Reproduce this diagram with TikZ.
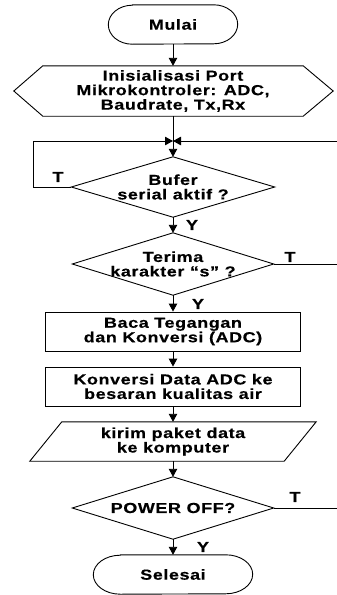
\documentclass[tikz,border=0pt]{standalone}
\usepackage{fontspec}
\setmainfont{Liberation Sans}[FakeStretch=1.24,LetterSpace=4,FakeBold=0.4]
\usetikzlibrary{arrows.meta}
\begin{document}
\begin{tikzpicture}[x=1pt,y=1pt,
  every node/.style={font=\fontsize{14.5}{14.5}\selectfont\bfseries, align=center, inner sep=0pt},
  line/.style={line width=0.9pt, black},
  arr/.style={line, -{Triangle[length=8pt,width=8.5pt]}},
  boxn/.style={draw, line width=0.9pt, minimum width=255pt, minimum height=39pt},
  dia/.style={minimum width=201pt, minimum height=62pt}
]
\useasboundingbox (0,0) rectangle (337,-595);

% terminator Mulai
\node (mulai) [minimum width=129pt, minimum height=39pt] at (173,-24.5) {Mulai};
\draw[line] ([xshift=24pt]mulai.north west) -- ([xshift=-24pt]mulai.north east)
  arc[start angle=90,end angle=-90,x radius=24pt,y radius=19.5pt]
  -- ([xshift=24pt]mulai.south west)
  arc[start angle=270,end angle=90,x radius=24pt,y radius=19.5pt] -- cycle;

% initialisation hexagon
\node (init) [minimum width=260pt, minimum height=50pt] at (173,-91) {Inisialisasi Port\\Mikrokontroler: ADC,\\Baudrate, Tx,Rx};
\draw[line] (init.north west) -- (init.north east) -- ([xshift=30pt]init.east)
  -- (init.south east) -- (init.south west) -- ([xshift=-29pt]init.west) -- cycle;

\coordinate (merge) at (173,-141);

% decision Bufer
\node (bufer) [minimum width=203pt, minimum height=60pt] at (173,-187) {Bufer\\serial aktif ?};
\draw[line] (bufer.north) -- (bufer.east) -- (bufer.south) -- (bufer.west) -- cycle;

% decision Terima
\node (terima) [dia] at (173,-264) {Terima\\karakter “s” ?};
\draw[line] (terima.north) -- (terima.east) -- (terima.south) -- (terima.west) -- cycle;

% process boxes
\node (baca) [boxn] at (173,-331.5) {Baca Tegangan\\dan Konversi (ADC)};
\node (konv) [boxn] at (173,-386.5) {Konversi Data ADC ke\\besaran kualitas air};

% output parallelogram
\node (kirim) [minimum width=254pt, minimum height=39pt] at (173,-441.5) {kirim paket data\\ke komputer};
\draw[line] ([xshift=16pt]kirim.north west) -- ([xshift=16pt]kirim.north east)
  -- ([xshift=-16pt]kirim.south east) -- ([xshift=-16pt]kirim.south west) -- cycle;

% decision Power
\node (power) [dia] at (173,-508) {POWER OFF?};
\draw[line] (power.north) -- (power.east) -- (power.south) -- (power.west) -- cycle;

% terminator Selesai
\node (selesai) [minimum width=159pt, minimum height=39pt] at (173,-574.5) {Selesai};
\draw[line] ([xshift=27pt]selesai.north west) -- ([xshift=-27pt]selesai.north east)
  arc[start angle=90,end angle=-90,x radius=27pt,y radius=19.5pt]
  -- ([xshift=27pt]selesai.south west)
  arc[start angle=270,end angle=90,x radius=27pt,y radius=19.5pt] -- cycle;

% free ends
\coordinate (lc) at (33,-187);
\coordinate (rin) at (337,-141);
\coordinate (tout) at (337,-264);
\coordinate (pout) at (337,-508);

% connectors
\draw[arr] (mulai.south) -- (init.north);
\draw[line] (init.south) -- (merge);
\draw[arr] (merge) -- (bufer.north);
\draw[arr] (bufer.west) -- (lc) -- (lc |- merge) -- (merge);
\draw[arr] (rin) -- (merge);
\draw[arr] (bufer.south) -- (terima.north);
\draw[line] (terima.east) -- (tout);
\draw[arr] (terima.south) -- (baca.north);
\draw[arr] (baca.south) -- (konv.north);
\draw[arr] (konv.south) -- (kirim.north);
\draw[arr] (kirim.south) -- (power.north);
\draw[line] (power.east) -- (pout);
\draw[arr] (power.south) -- (selesai.north);

% labels
\node (t1) at (58,-177) {T};
\node (y1) at (192,-225) {Y};
\node (t2) at (290,-257) {T};
\node (y2) at (198,-304) {Y};
\node (t3) at (295,-497) {T};
\node (y3) at (203,-547) {Y};
\end{tikzpicture}
\end{document}
